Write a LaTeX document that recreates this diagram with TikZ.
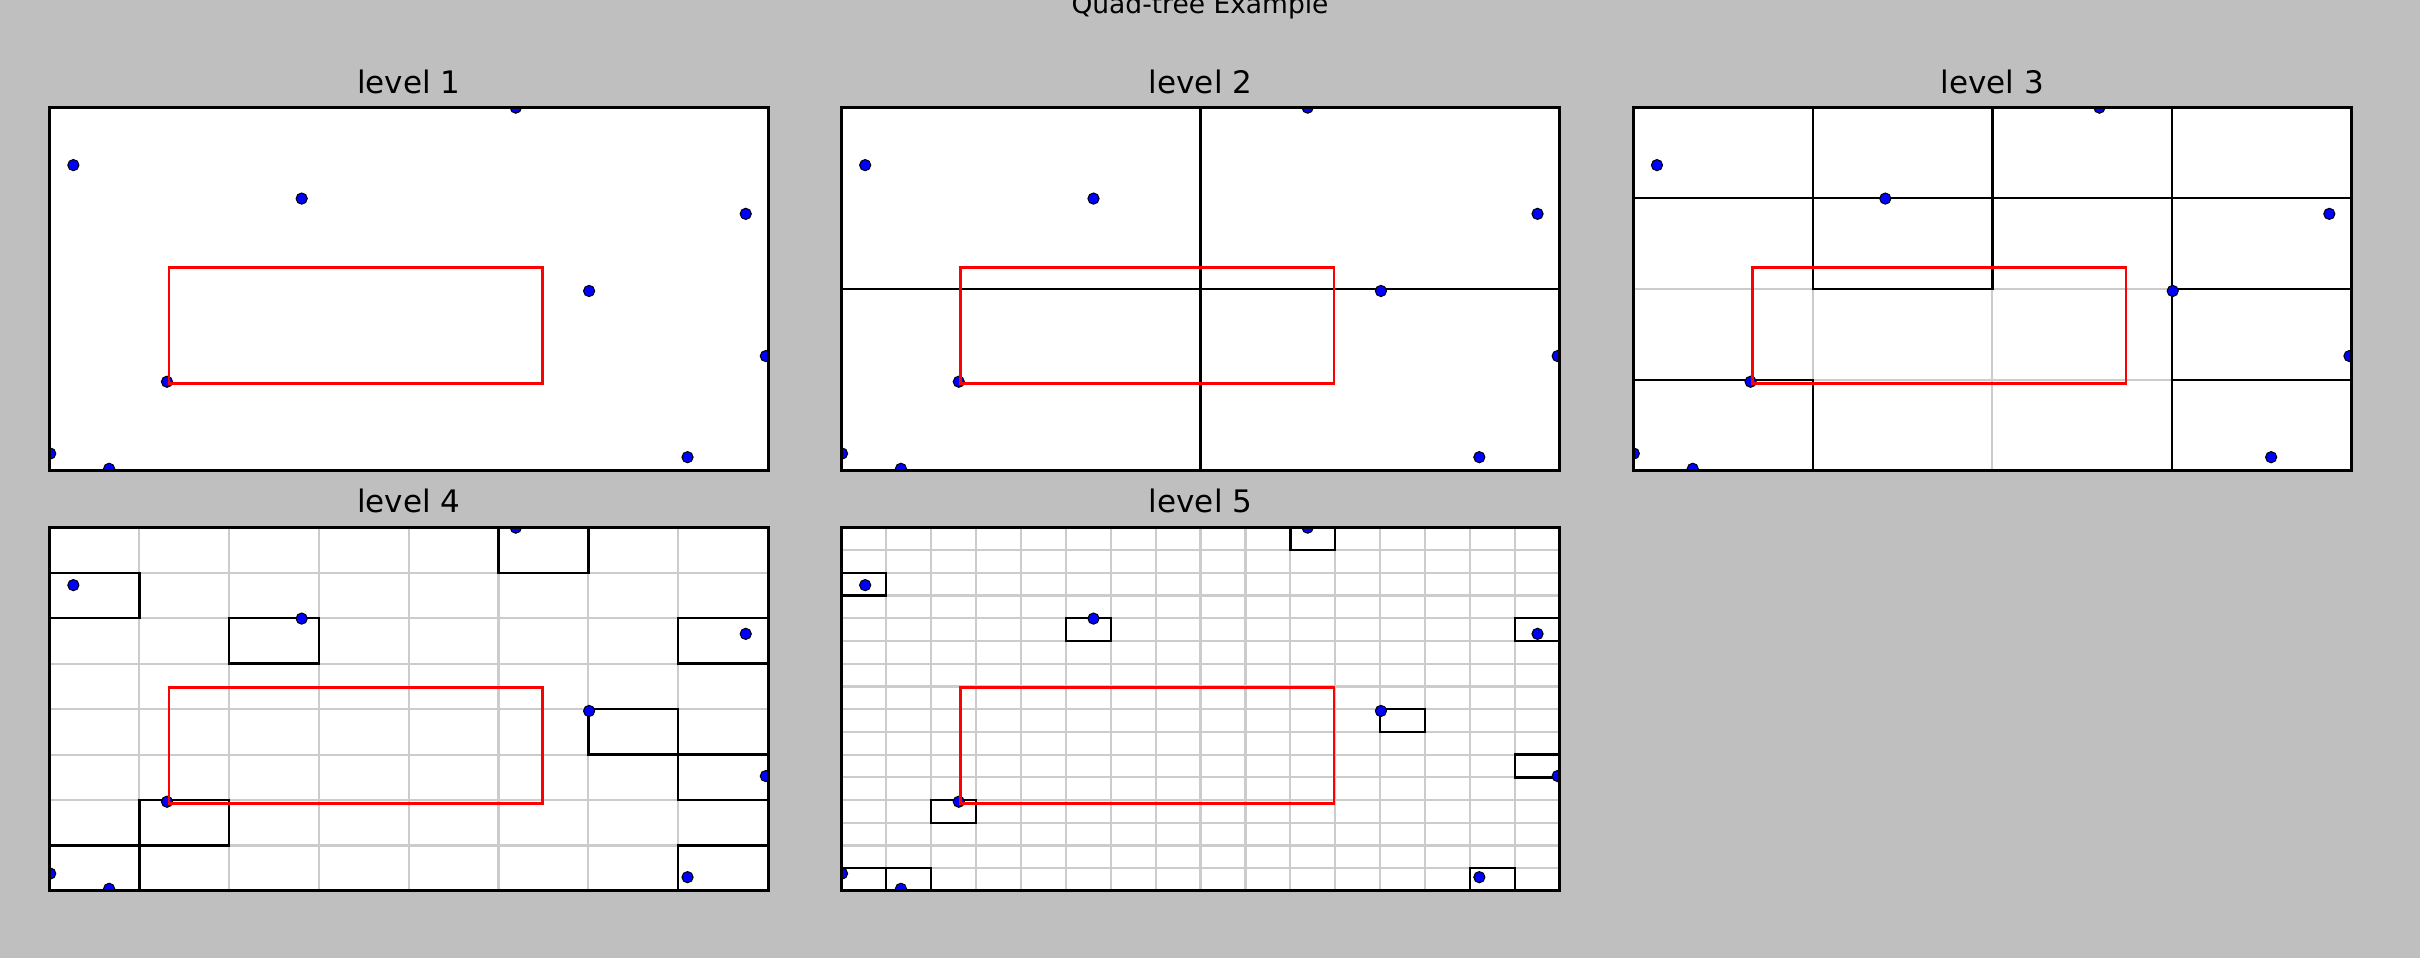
\documentclass[tikz,border=0pt]{standalone}
\usepackage{fontspec}
\setmainfont{DejaVu Sans}
\definecolor{bgc}{RGB}{191,191,191}
\definecolor{gridc}{RGB}{204,204,204}
\definecolor{ptblue}{RGB}{0,0,255}
\definecolor{boxred}{RGB}{255,0,0}
\tikzset{
  gridline/.style={draw=gridc, line width=2.2pt},
  cellbox/.style={draw=black, line width=2.4pt},
  panelframe/.style={draw=black, line width=3pt},
  querybox/.style={draw=boxred, line width=2.4pt},
  datapt/.style={fill=ptblue, draw=black, line width=1pt},
  paneltitle/.style={font=\fontsize{31}{37}\selectfont, anchor=base, inner sep=0pt},
  suptitlestyle/.style={font=\fontsize{26.5}{32}\selectfont, anchor=base, inner sep=0pt},
}
\newcommand\pointlist{0.649/0.999, 0.0332/0.841, 0.351/0.749, 0.969/0.707, 0.751/0.495, 0.997/0.316, 0.1635/0.2454, 0.001/0.048, 0.083/0.006, 0.888/0.038}
% #1 x-left, #2 y-bottom, #3 cells per side, #4 list of occupied cells col/row
\newcommand\drawpanel[4]{%
\begin{scope}[shift={(#1,#2)}, x=718.5pt, y=363.7pt]
  \fill[white] (0,0) rectangle (1,1);
  \ifnum#3>1
    \pgfmathtruncatemacro\nm{#3-1}
    \foreach \k in {1,...,\nm} {
      \draw[gridline] ({\k/#3},0) -- ({\k/#3},1);
      \draw[gridline] (0,{\k/#3}) -- (1,{\k/#3});
    }
  \fi
  \foreach \c/\r in {#4} {
    \draw[cellbox] ({\c/#3},{\r/#3}) rectangle ({(\c+1)/#3},{(\r+1)/#3});
  }
  \begin{scope}
    \clip (0,0) rectangle (1,1);
    \foreach \px/\py in \pointlist {
      \filldraw[datapt] (\px,\py) circle [radius=5.6pt];
    }
  \end{scope}
  \draw[querybox] (0.166,0.241) rectangle (0.686,0.560);
  \draw[panelframe] (0,0) rectangle (1,1);
\end{scope}}
\begin{document}
\begin{tikzpicture}[x=1pt,y=1pt]
\useasboundingbox (0,0) rectangle (2420,958);
\fill[bgc] (0,0) rectangle (2420,958);
\node[suptitlestyle] (suptitle) at (1200,944) {Quad-tree Example};
% panels
\drawpanel{49.5}{487}{1}{0/0}
\drawpanel{841.3}{487}{2}{0/0, 1/0, 0/1, 1/1}
\drawpanel{1633.1}{487}{4}{2/3, 0/3, 1/2, 3/2, 3/1, 0/0, 3/0}
\drawpanel{49.5}{67}{8}{5/7, 0/6, 2/5, 7/5, 6/3, 7/2, 1/1, 0/0, 7/0}
\drawpanel{841.3}{67}{16}{10/15, 0/13, 5/11, 15/11, 12/7, 15/5, 2/3, 0/0, 1/0, 14/0}
% titles
\node[paneltitle] (t1) at (408.75,864.7) {level 1};
\node[paneltitle] (t2) at (1200.55,864.7) {level 2};
\node[paneltitle] (t3) at (1992.35,864.7) {level 3};
\node[paneltitle] (t4) at (408.75,445) {level 4};
\node[paneltitle] (t5) at (1200.55,445) {level 5};
\end{tikzpicture}
\end{document}
